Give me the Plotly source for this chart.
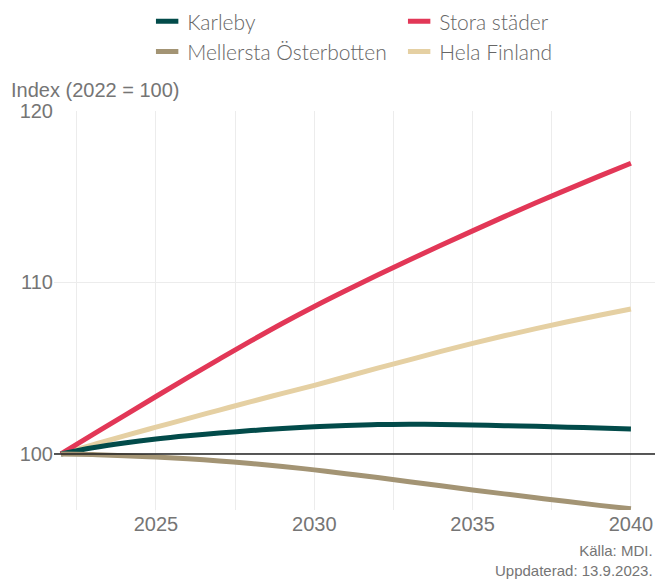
import plotly.graph_objects as go

years = list(range(2022, 2041))

karleby = [100, 100.36, 100.64, 100.87, 101.06, 101.22, 101.36, 101.48, 101.58, 101.66,
           101.71, 101.73, 101.72, 101.69, 101.65, 101.61, 101.56, 101.51, 101.46]
stora_stader = [100, 101.12, 102.24, 103.35, 104.45, 105.53, 106.59, 107.62, 108.6, 109.53,
                110.43, 111.31, 112.17, 113.01, 113.84, 114.65, 115.43, 116.2, 116.95]
mellersta = [100, 99.96, 99.9, 99.82, 99.72, 99.59, 99.44, 99.27, 99.07, 98.85,
             98.62, 98.38, 98.14, 97.9, 97.67, 97.44, 97.22, 97.0, 96.8]
hela_finland = [100, 100.53, 101.05, 101.56, 102.06, 102.56, 103.05, 103.53, 104.0, 104.5,
                105.0, 105.49, 105.98, 106.45, 106.89, 107.31, 107.71, 108.09, 108.45]

series_names = ["Karleby", "Stora städer", "Mellersta Österbotten", "Hela Finland"]
colors = {"Karleby": "#024b4a", "Stora städer": "#e23757",
          "Mellersta Österbotten": "#a39474", "Hela Finland": "#e5d0a3"}
values = {"Karleby": karleby, "Stora städer": stora_stader,
          "Mellersta Österbotten": mellersta, "Hela Finland": hela_finland}
draw_order = ["Hela Finland", "Stora städer", "Karleby", "Mellersta Österbotten"]

FONT = "Liberation Sans, Arial, sans-serif"
LEG_FONT = "Lato, Roboto, sans-serif"
GRAY = "#757575"

fig = go.Figure()
for name in draw_order:
    fig.add_trace(go.Scatter(
        x=years, y=values[name], name=name, mode="lines",
        line=dict(color=colors[name], width=5, shape="spline", smoothing=1),
        showlegend=False, hoverinfo="skip",
    ))
# legend entries (short thick bars like the reference)
for name in series_names:
    fig.add_trace(go.Scatter(
        x=[None], y=[None], name=name, mode="markers",
        marker=dict(symbol="line-ew", size=16, color=colors[name],
                    line=dict(color=colors[name], width=5)),
        showlegend=True, hoverinfo="skip",
    ))

fig.add_shape(type="line", xref="paper", yref="y", x0=0, x1=1, y0=100, y1=100,
              line=dict(color="#222222", width=1.5), layer="above")

fig.add_annotation(text="Index (2022 = 100)", xref="paper", yref="paper",
                   x=-0.075, y=1.0, xanchor="left", yanchor="bottom", yshift=8,
                   showarrow=False, font=dict(family=FONT, size=20, color=GRAY))
fig.add_annotation(text="Källa: MDI.<br>Uppdaterad: 13.9.2023.", xref="paper", yref="paper",
                   x=1.0, y=0, xanchor="right", yanchor="top", yshift=-30, align="right",
                   showarrow=False, font=dict(family=FONT, size=15, color=GRAY))

fig.update_layout(
    width=657, height=581,
    margin=dict(l=54, r=2, t=111, b=71),
    plot_bgcolor="white", paper_bgcolor="white",
    font=dict(family=FONT, color=GRAY),
    showlegend=True,
    legend=dict(orientation="h", x=0.155, xanchor="left", y=0.998, yanchor="top",
                yref="container", entrywidth=207, entrywidthmode="pixels",
                font=dict(family=LEG_FONT, size=21, color="#666666", weight=300),
                traceorder="normal", itemwidth=30),
    xaxis=dict(range=[2021.78, 2040.76], tick0=2025, dtick=5, showgrid=True,
               gridcolor="#ececec", gridwidth=1, zeroline=False, showline=False,
               ticks="", tickfont=dict(family=FONT, size=20, color=GRAY),
               minor=dict(tick0=2025, dtick=2.5, showgrid=True, gridcolor="#ececec", gridwidth=1)),
    yaxis=dict(range=[96.73, 120.0], tickvals=[100, 110, 120], showgrid=True,
               gridcolor="#ececec", gridwidth=1, zeroline=False, showline=False,
               ticks="", tickfont=dict(family=FONT, size=20, color=GRAY)),
)

fig.write_html("out.html", config={"displayModeBar": False},
               post_script="document.body.style.margin='0';document.body.style.overflow='hidden';")
